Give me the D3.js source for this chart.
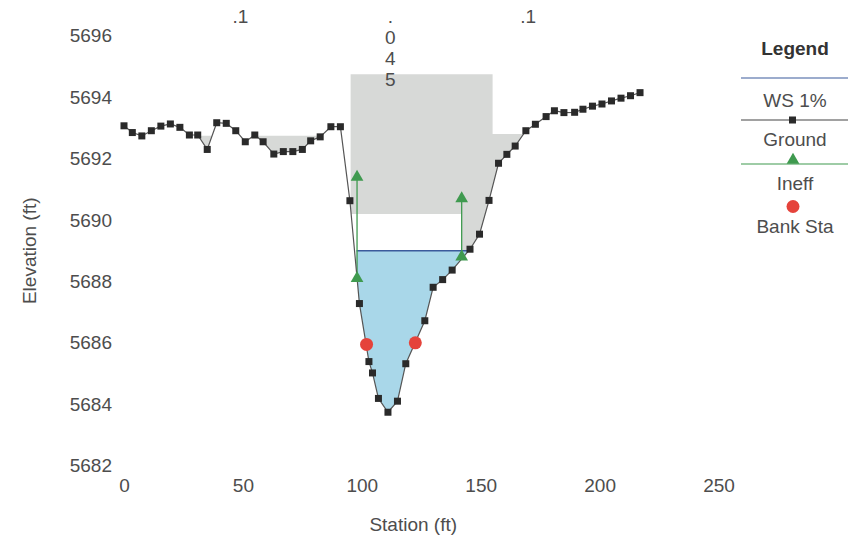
<!DOCTYPE html>
<html><head><meta charset="utf-8">
<script src="https://cdn.jsdelivr.net/npm/d3@7"></script>
<style>
body{margin:0;background:#fff;}
svg{display:block;font-family:"Liberation Sans Narrow","Liberation Sans",Arial,sans-serif;}
</style></head><body>
<svg id="chart" width="853" height="541"></svg>
<script>
// ---- data ----
const groundStation = [0,3.5,7.5,11.5,15.5,19.5,23.5,27.5,31,35,39,43,47,51,55,58.5,63,67,71,75,78.5,82.5,87,91,95,99,103,104.5,107,111,115,118.5,126.5,130,134,138,145.5,149.5,153.5,157.5,161,164.5,169,173,177.5,181,185,189.5,193,197,201,205,209,213,217];
const groundElev = [5693.07,5692.85,5692.74,5692.91,5693.06,5693.13,5693.02,5692.77,5692.77,5692.30,5693.17,5693.15,5692.91,5692.55,5692.77,5692.55,5692.15,5692.23,5692.23,5692.30,5692.58,5692.71,5693.04,5693.04,5690.63,5687.28,5685.39,5685.02,5684.19,5683.74,5684.10,5685.32,5686.72,5687.81,5688.06,5688.37,5689.05,5689.54,5690.64,5691.85,5692.14,5692.41,5692.91,5693.12,5693.37,5693.56,5693.50,5693.51,5693.61,5693.71,5693.78,5693.88,5693.97,5694.05,5694.15];
const bankStation = [102, 122.5];
const bankElev = [5685.95, 5686.0];
const ineffStation = [[98, 98], [142, 142]];
const ineffElev = [[5691.4, 5688.1], [5690.7, 5688.8]];
const wsName = "WS 1%";
const wsElev = 5689.0;
const wsStations = [97.8, 145.3];
const blockedStation = [95.3, 155, 155, 200, 200, 142, 142, 95.3];
const blockedElev = [5694.75, 5694.75, 5692.8, 5692.8, 5689.0, 5689.0, 5690.2, 5690.2];
const overbankIneffStations = [[30, 40], [55, 85]];
const overbankIneffElev = 5692.75;
const nValues = [".1", ".045", ".1"];
const nStations = [49, 112, 170];
const xTicks = [0, 50, 100, 150, 200, 250];
const yTicks = [5682, 5684, 5686, 5688, 5690, 5692, 5694, 5696];
const legendItems = [wsName, "Ground", "Ineff", "Bank Sta"];

// ---- drawing ----
const svg = d3.select("#chart");
const x = d3.scaleLinear().domain([0, 250]).range([124, 718.5]);
const y = d3.scaleLinear().domain([5682, 5696]).range([465.65, 35.85]);
const textCol = "#4d4d4d";
const fs = 19;

const ground = groundStation.map((s, i) => [s, groundElev[i]]);
const line = d3.line().x(d => x(d[0])).y(d => y(d[1]));

// clip: region above the ground
const defs = svg.append("defs");
const above = [[-10, groundElev[0]], ...ground, [240, groundElev[groundElev.length-1]], [240, 5705], [-10, 5705]];
defs.append("clipPath").attr("id", "aboveGround")
  .append("path").attr("d", line(above) + "Z");

const fillG = svg.append("g").attr("clip-path", "url(#aboveGround)");
// blocked / ineffective gray area
const blocked = blockedStation.map((s, i) => [s, blockedElev[i]]);
fillG.append("path").attr("d", line(blocked) + "Z").attr("fill", "#d7d9d7");
overbankIneffStations.forEach(r => {
  const poly = [[r[0], overbankIneffElev], [r[1], overbankIneffElev], [r[1], 5682], [r[0], 5682]];
  fillG.append("path").attr("d", line(poly) + "Z").attr("fill", "#d7d9d7");
});
// water
const water = [[wsStations[0], wsElev], [wsStations[1] + 5, wsElev], [wsStations[1] + 5, 5682], [wsStations[0], 5682]];
fillG.append("path").attr("d", line(water) + "Z").attr("fill", "#a9d7e9");

// WS line
svg.append("path").attr("d", line([[wsStations[0], wsElev], [wsStations[1], wsElev]]))
  .attr("stroke", "#3b5b9c").attr("stroke-width", 1.3).attr("fill", "none");

// ineff lines
const green = "#3f9a4f";
ineffStation.forEach((st, i) => {
  const pts = st.map((s, j) => [s, ineffElev[i][j]]);
  svg.append("path").attr("d", line(pts)).attr("stroke", green).attr("stroke-width", 1.3).attr("fill", "none");
});

// ground line + markers
svg.append("path").attr("d", line(ground)).attr("stroke", "#555").attr("stroke-width", 1.2).attr("fill", "none");
svg.selectAll("rect.gm").data(ground).enter().append("rect").attr("class", "gm")
  .attr("x", d => x(d[0]) - 3.5).attr("y", d => y(d[1]) - 3.5)
  .attr("width", 7).attr("height", 7).attr("fill", "#2a2a2a");

// ineff triangles
const tri = d3.symbol().type(d3.symbolTriangle).size(70);
ineffStation.forEach((st, i) => {
  st.forEach((s, j) => {
    svg.append("path").attr("d", tri())
      .attr("transform", `translate(${x(s)},${y(ineffElev[i][j])})`).attr("fill", green);
  });
});

// bank stations
svg.selectAll("circle.bank").data(bankStation).enter().append("circle")
  .attr("cx", d => x(d)).attr("cy", (d, i) => y(bankElev[i])).attr("r", 6.5).attr("fill", "#e5433b");

// axes (labels only)
const yAxis = svg.append("g").attr("transform", `translate(${x(0)},0)`)
  .call(d3.axisLeft(y).tickValues(yTicks).tickSize(0).tickPadding(12).tickFormat(d3.format("d")));
const xAxis = svg.append("g").attr("transform", `translate(0,${y(5682)})`)
  .call(d3.axisBottom(x).tickValues(xTicks).tickSize(0).tickPadding(13));
[yAxis, xAxis].forEach(a => {
  a.select(".domain").remove();
  a.selectAll("text").attr("fill", textCol).attr("font-size", fs).attr("font-family", null);
});

svg.append("text").attr("x", x(0) + (x(250) - x(0)) / 2 - 8).attr("y", 531)
  .attr("text-anchor", "middle").attr("font-size", fs).attr("fill", textCol).text("Station (ft)");
svg.append("text").attr("transform", `translate(36,${y(5689)}) rotate(-90)`)
  .attr("text-anchor", "middle").attr("font-size", fs).attr("fill", textCol).text("Elevation (ft)");

// Manning's n labels
nValues.forEach((v, i) => {
  if (i === 1) {
    v.split("").forEach((c, k) => {
      svg.append("text").attr("x", x(nStations[i])).attr("y", 23 + k * 21)
        .attr("text-anchor", "middle").attr("font-size", fs).attr("fill", textCol).text(c);
    });
  } else {
    svg.append("text").attr("x", x(nStations[i])).attr("y", 23)
      .attr("text-anchor", "middle").attr("font-size", fs).attr("fill", textCol).text(v);
  }
});

// legend
const lg = svg.append("g");
const lx = 795, l0 = 741, l1 = 848;
lg.append("text").attr("x", lx).attr("y", 55).attr("text-anchor", "middle")
  .attr("font-size", fs).attr("font-weight", "bold").attr("fill", "#333").text("Legend");
lg.append("line").attr("x1", l0).attr("x2", l1).attr("y1", 78).attr("y2", 78).attr("stroke", "#3b5b9c").attr("stroke-width", 1.2);
lg.append("line").attr("x1", l0).attr("x2", l1).attr("y1", 120).attr("y2", 120).attr("stroke", "#444").attr("stroke-width", 1.2);
lg.append("rect").attr("x", lx - 6).attr("y", 116.5).attr("width", 7).attr("height", 7).attr("fill", "#2a2a2a");
lg.append("line").attr("x1", l0).attr("x2", l1).attr("y1", 164).attr("y2", 164).attr("stroke", green).attr("stroke-width", 1.2);
lg.append("path").attr("d", tri()).attr("transform", `translate(${lx - 2},160)`).attr("fill", green);
lg.append("circle").attr("cx", lx - 2).attr("cy", 206.5).attr("r", 6.5).attr("fill", "#e5433b");
const labY = [107, 146, 190, 233];
legendItems.forEach((t, i) => {
  lg.append("text").attr("x", lx).attr("y", labY[i]).attr("text-anchor", "middle")
    .attr("font-size", fs).attr("fill", textCol).text(t);
});
</script>
</body></html>
